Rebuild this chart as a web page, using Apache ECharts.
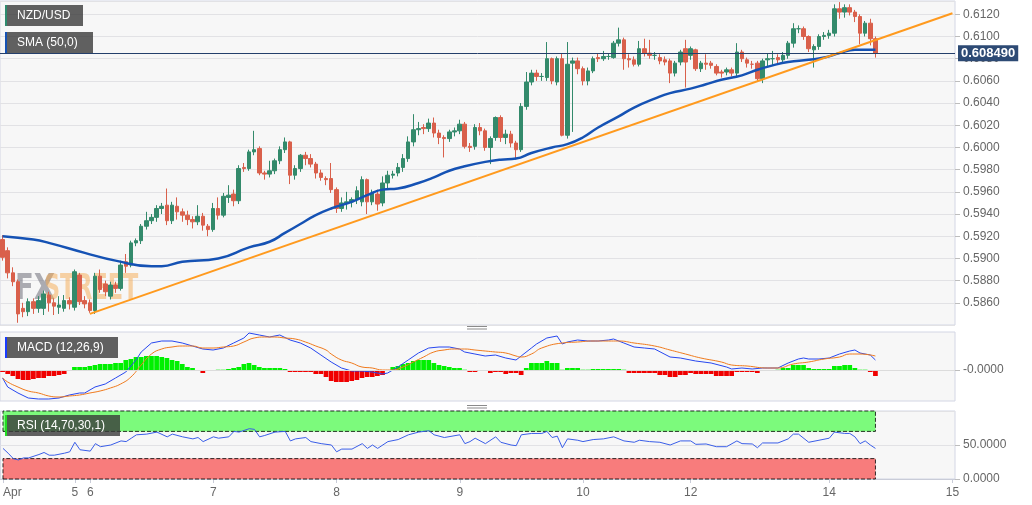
<!DOCTYPE html>
<html>
<head>
<meta charset="utf-8">
<title>NZD/USD</title>
<script src="https://cdn.jsdelivr.net/npm/echarts@6/dist/echarts.min.js"></script>
<style>
html, body { margin: 0; padding: 0; background: #fff; }
#chart { width: 1032px; height: 505px; }
</style>
</head>
<body>
<div id="chart"></div>
<script>
// hourly candles, [open, close, low, high]
const candles = [
  [0.5917,0.5901,0.5898,0.5921],[0.5907,0.5887,0.5882,0.5910],[0.5887,0.5879,0.5875,0.5892],[0.5879,0.5850,0.5842,0.5881],
  [0.5855,0.5852,0.5847,0.5860],[0.5852,0.5861,0.5848,0.5864],[0.5861,0.5855,0.5850,0.5864],[0.5855,0.5862,0.5851,0.5866],
  [0.5855,0.5868,0.5849,0.5871],[0.5867,0.5860,0.5852,0.5870],[0.5860,0.5857,0.5849,0.5864],[0.5856,0.5858,0.5850,0.5866],
  [0.5855,0.5862,0.5852,0.5867],[0.5862,0.5859,0.5854,0.5865],[0.5856,0.5888,0.5853,0.5890],[0.5885,0.5861,0.5858,0.5887],
  [0.5862,0.5859,0.5855,0.5866],[0.5860,0.5853,0.5851,0.5863],[0.5853,0.5884,0.5850,0.5887],[0.5884,0.5872,0.5869,0.5890],
  [0.5877,0.5870,0.5866,0.5880],[0.5866,0.5876,0.5863,0.5879],[0.5876,0.5873,0.5869,0.5879],[0.5873,0.5894,0.5871,0.5898],
  [0.5897,0.5893,0.5887,0.5904],[0.5894,0.5914,0.5892,0.5916],[0.5914,0.5916,0.5911,0.5918],[0.5916,0.5929,0.5913,0.5931],
  [0.5929,0.5934,0.5926,0.5942],[0.5934,0.5937,0.5931,0.5940],[0.5937,0.5945,0.5933,0.5948],[0.5945,0.5947,0.5940,0.5950],
  [0.5948,0.5934,0.5930,0.5963],[0.5934,0.5948,0.5931,0.5951],[0.5947,0.5942,0.5935,0.5955],[0.5942,0.5939,0.5933,0.5945],
  [0.5939,0.5935,0.5930,0.5943],[0.5935,0.5933,0.5927,0.5938],[0.5933,0.5938,0.5930,0.5948],[0.5938,0.5930,0.5925,0.5941],
  [0.5929,0.5926,0.5920,0.5931],[0.5926,0.5945,0.5924,0.5950],[0.5945,0.5939,0.5935,0.5955],[0.5939,0.5956,0.5937,0.5959],
  [0.5955,0.5957,0.5950,0.5966],[0.5958,0.5952,0.5947,0.5962],[0.5952,0.5981,0.5949,0.5984],[0.5982,0.5981,0.5978,0.5986],
  [0.5981,0.5996,0.5979,0.5998],[0.5996,0.5998,0.5993,0.6015],[0.5999,0.5977,0.5975,0.6001],[0.5977,0.5976,0.5971,0.5979],
  [0.5976,0.5979,0.5973,0.5988],[0.5979,0.5988,0.5976,0.5990],[0.5988,0.5998,0.5985,0.6001],[0.5998,0.6005,0.5995,0.6009],
  [0.6005,0.5975,0.5967,0.6006],[0.5975,0.5981,0.5971,0.5984],[0.5981,0.5993,0.5978,0.5994],[0.5993,0.5990,0.5984,0.5996],
  [0.5990,0.5985,0.5982,0.5994],[0.5985,0.5977,0.5972,0.5987],[0.5977,0.5973,0.5970,0.5980],[0.5972,0.5971,0.5966,0.5974],
  [0.5972,0.5962,0.5959,0.5986],[0.5962,0.5945,0.5941,0.5964],[0.5945,0.5950,0.5942,0.5955],[0.5950,0.5951,0.5944,0.5960],
  [0.5951,0.5953,0.5946,0.5955],[0.5953,0.5961,0.5949,0.5965],[0.5951,0.5971,0.5947,0.5974],[0.5971,0.5951,0.5940,0.5972],
  [0.5951,0.5959,0.5948,0.5962],[0.5958,0.5949,0.5943,0.5962],[0.5950,0.5968,0.5947,0.5974],[0.5968,0.5975,0.5962,0.5979],
  [0.5975,0.5976,0.5972,0.5979],[0.5977,0.5982,0.5974,0.5986],[0.5982,0.5990,0.5978,0.5994],[0.5990,0.6005,0.5987,0.6010],
  [0.6005,0.6016,0.6001,0.6030],[0.6016,0.6017,0.6011,0.6023],[0.6018,0.6017,0.6012,0.6021],[0.6017,0.6022,0.6014,0.6026],
  [0.6022,0.6013,0.6009,0.6027],[0.6013,0.6009,0.6003,0.6016],[0.6009,0.6008,0.5991,0.6011],[0.6008,0.6014,0.6005,0.6016],
  [0.6014,0.6015,0.6010,0.6018],[0.6015,0.6021,0.6012,0.6025],[0.6021,0.6001,0.5999,0.6023],[0.6001,0.6000,0.5996,0.6004],
  [0.6001,0.6018,0.5998,0.6021],[0.6018,0.6015,0.6011,0.6022],[0.6015,0.6000,0.5997,0.6017],[0.6000,0.6008,0.5985,0.6010],
  [0.6009,0.6027,0.6006,0.6028],[0.6027,0.6009,0.6005,0.6029],[0.6009,0.6012,0.6003,0.6016],[0.6012,0.6004,0.6000,0.6015],
  [0.6004,0.5998,0.5989,0.6006],[0.5998,0.6037,0.5996,0.6040],[0.6037,0.6059,0.6034,0.6068],[0.6059,0.6067,0.6056,0.6070],
  [0.6067,0.6064,0.6060,0.6070],[0.6064,0.6064,0.6060,0.6067],[0.6063,0.6080,0.6060,0.6095],[0.6080,0.6060,0.6057,0.6081],
  [0.6059,0.6080,0.6056,0.6082],[0.6080,0.6011,0.6010,0.6085],[0.6011,0.6075,0.6008,0.6095],[0.6076,0.6078,0.6014,0.6081],
  [0.6078,0.6071,0.6066,0.6081],[0.6071,0.6060,0.6056,0.6073],[0.6060,0.6069,0.6056,0.6072],[0.6069,0.6080,0.6067,0.6082],
  [0.6081,0.6080,0.6077,0.6085],[0.6080,0.6082,0.6078,0.6087],[0.6082,0.6082,0.6079,0.6085],[0.6081,0.6094,0.6080,0.6096],
  [0.6094,0.6097,0.6091,0.6108],[0.6097,0.6080,0.6070,0.6099],[0.6080,0.6079,0.6072,0.6084],[0.6079,0.6075,0.6073,0.6082],
  [0.6075,0.6089,0.6073,0.6096],[0.6089,0.6085,0.6082,0.6098],[0.6085,0.6083,0.6080,0.6097],[0.6083,0.6083,0.6079,0.6086],
  [0.6081,0.6078,0.6075,0.6084],[0.6079,0.6077,0.6074,0.6082],[0.6078,0.6067,0.6058,0.6080],[0.6067,0.6076,0.6064,0.6078],
  [0.6077,0.6086,0.6074,0.6088],[0.6089,0.6077,0.6054,0.6097],[0.6083,0.6089,0.6079,0.6091],[0.6088,0.6071,0.6069,0.6089],
  [0.6071,0.6076,0.6068,0.6078],[0.6076,0.6075,0.6070,0.6084],[0.6076,0.6074,0.6071,0.6078],[0.6073,0.6067,0.6065,0.6075],
  [0.6068,0.6067,0.6063,0.6070],[0.6068,0.6070,0.6065,0.6072],[0.6070,0.6067,0.6064,0.6072],[0.6067,0.6086,0.6064,0.6094],
  [0.6086,0.6080,0.6077,0.6088],[0.6079,0.6076,0.6072,0.6081],[0.6075,0.6075,0.6071,0.6078],[0.6076,0.6062,0.6059,0.6078],
  [0.6062,0.6078,0.6058,0.6080],[0.6079,0.6080,0.6073,0.6085],[0.6080,0.6080,0.6074,0.6087],[0.6081,0.6079,0.6076,0.6084],
  [0.6079,0.6083,0.6076,0.6086],[0.6083,0.6094,0.6080,0.6096],[0.6094,0.6107,0.6090,0.6112],[0.6107,0.6107,0.6103,0.6110],
  [0.6107,0.6100,0.6097,0.6109],[0.6100,0.6089,0.6086,0.6101],[0.6088,0.6091,0.6072,0.6093],[0.6091,0.6100,0.6088,0.6102],
  [0.6100,0.6101,0.6097,0.6104],[0.6101,0.6103,0.6098,0.6106],[0.6103,0.6125,0.6100,0.6129],[0.6125,0.6122,0.6116,0.6131],
  [0.6122,0.6126,0.6117,0.6129],[0.6126,0.6122,0.6119,0.6129],[0.6122,0.6118,0.6113,0.6124],[0.6118,0.6103,0.6093,0.6120],
  [0.6103,0.6112,0.6100,0.6114],[0.6112,0.6098,0.6092,0.6116],[0.6098,0.60849,0.6081,0.6100]
];
const lastPrice = 0.60849;

// SMA(50), [candle index, value]
const smaPts = [
  [0,0.5920],[6,0.5917],[9,0.5914],[16,0.5905],[22,0.5898],[29,0.5893],[31,0.5893],[35,0.5897],[42,0.5900],
  [48,0.5910],[52,0.5915],[55,0.5923],[58,0.5931],[61,0.5939],[64,0.5945],[68,0.5951],[71,0.5957],[74,0.5962],
  [77,0.5963],[81,0.5968],[84,0.5973],[87,0.5979],[90,0.5983],[94,0.5987],[97,0.5989],[100,0.5990],[103,0.5995],
  [107,0.6000],[110,0.6003],[113,0.6009],[116,0.6018],[120,0.6028],[123,0.6036],[127,0.6044],[130,0.6049],
  [134,0.6053],[137,0.6057],[140,0.6061],[144,0.6065],[147,0.6070],[150,0.6074],[153,0.6077],[157,0.6079],
  [160,0.6081],[163,0.6085],[166,0.6088],[170,0.6088]
];

// rising trend line
const trendPts = [[17, 0.5850], [185, 0.6121]];

// MACD (12,26,9)
const macdHist = [
  -0.0002,-0.0004,-0.0006,-0.0009,-0.0010,-0.0010,-0.0009,-0.0008,-0.0008,-0.0006,-0.0006,-0.0005,-0.0004,-0.0001,
  0.0003,0.0003,0.0003,0.0004,0.0005,0.0006,0.0006,0.0006,0.0007,0.0007,0.0010,0.0011,0.0013,0.0013,0.0014,0.0014,
  0.0014,0.0013,0.0012,0.0010,0.0009,0.0006,0.0003,0.0002,-0.0001,-0.0003,-0.0001,-0.0001,0.00003,0.00003,0.0001,
  0.0002,0.0003,0.0006,0.0007,0.0005,0.0003,0.0002,0.0002,0.0002,0.0002,0.0001,-0.0002,-0.0002,-0.0002,-0.0002,
  -0.0002,-0.0004,-0.0004,-0.0007,-0.0011,-0.0012,-0.0012,-0.0012,-0.0011,-0.0010,-0.0008,-0.0007,-0.0007,-0.0006,
  -0.0005,-0.0001,0.0003,0.0004,0.0006,0.0007,0.0009,0.0010,0.0010,0.0010,0.0007,0.0005,0.0004,0.0003,0.0002,0.0002,
  0.00003,-0.0002,-0.0002,-0.0001,-0.0001,-0.0003,-0.0002,-0.0002,-0.0004,-0.0003,-0.0003,-0.0005,0.0002,0.0007,
  0.0007,0.0007,0.0009,0.0007,0.0007,0.00003,0.0002,0.0002,0.0002,0.00003,0.00003,0.0001,0.0001,0.0001,0.0001,
  0.0001,0.0001,0.00003,-0.0003,-0.0003,-0.0003,-0.0003,-0.0003,-0.0003,-0.0005,-0.0005,-0.0007,-0.0007,-0.0005,
  -0.0005,-0.0003,-0.0004,-0.0004,-0.0004,-0.0004,-0.0006,-0.0006,-0.0006,-0.0006,-0.0002,-0.0002,-0.0002,-0.0002,
  -0.0003,-0.0001,-0.0001,-0.0001,0.00003,0.0002,0.0002,0.0005,0.0005,0.0005,0.0002,0.0001,0.0001,0.0001,0.0001,
  0.0004,0.0004,0.0005,0.0005,0.0002,0.00003,0.00003,-0.0002,-0.0006
];
const macdPts = [
  [0,-0.0008],[1,-0.0017],[3,-0.0023],[5,-0.0028],[7,-0.0029],[9,-0.0029],[11,-0.0028],[13,-0.0025],[15,-0.0023],
  [16,-0.0023],[18,-0.0017],[20,-0.0014],[22,-0.0008],[24,-0.0002],[26,0.0010],[27,0.0018],[29,0.0027],[31,0.0029],
  [33,0.0029],[35,0.0027],[37,0.0024],[39,0.0021],[41,0.0020],[43,0.0022],[45,0.0027],[47,0.0032],[48,0.0037],
  [50,0.0035],[52,0.0033],[54,0.0035],[56,0.0030],[58,0.0027],[60,0.0022],[62,0.0015],[64,0.0008],[66,0.0002],
  [68,-0.0001],[70,-0.0001],[72,-0.0002],[74,-0.0004],[75,-0.0003],[77,0.0003],[79,0.0010],[81,0.0017],[83,0.0022],
  [85,0.0023],[87,0.0023],[89,0.0021],[90,0.0018],[92,0.0016],[94,0.0014],[96,0.0015],[98,0.0012],[100,0.0010],
  [101,0.0014],[103,0.0022],[104,0.0026],[106,0.0032],[108,0.0034],[109,0.0026],[110,0.0028],[112,0.0030],
  [114,0.0029],[116,0.0029],[118,0.0030],[119,0.0031],[121,0.0027],[123,0.0023],[125,0.0022],[127,0.0021],
  [130,0.0013],[132,0.0012],[135,0.0009],[138,0.0007],[141,0.0003],[142,0.0001],[144,0.0002],[146,0.0001],
  [148,0.0002],[151,0.0002],[153,0.0007],[155,0.0011],[156,0.0012],[157,0.0011],[159,0.0011],[161,0.0012],
  [163,0.0016],[165,0.0019],[166,0.0020],[167,0.0017],[169,0.0015],[170,0.0010]
];
const signalPts = [
  [0,-0.0008],[1,-0.0012],[3,-0.0017],[5,-0.0021],[7,-0.0023],[9,-0.0026],[11,-0.0027],[13,-0.0026],[15,-0.0025],
  [17,-0.0023],[19,-0.0021],[21,-0.0018],[23,-0.0014],[25,-0.0007],[27,0.0005],[29,0.0016],[31,0.0021],[33,0.0023],
  [35,0.0024],[37,0.0024],[39,0.0022],[41,0.0022],[43,0.0023],[45,0.0024],[47,0.0028],[49,0.0032],[51,0.0033],
  [53,0.0033],[55,0.0032],[57,0.0031],[59,0.0028],[61,0.0024],[63,0.0020],[64,0.0016],[66,0.0010],[68,0.0007],
  [70,0.0003],[72,0.0002],[74,0.0000],[76,0.0000],[78,0.0003],[80,0.0008],[82,0.0013],[84,0.0018],[86,0.0020],
  [88,0.0021],[90,0.0021],[92,0.0020],[94,0.0019],[96,0.0018],[98,0.0017],[100,0.0014],[101,0.0013],[103,0.0016],
  [105,0.0022],[109,0.0027],[112,0.0028],[115,0.0029],[118,0.0029],[120,0.0029],[123,0.0027],[127,0.0024],
  [130,0.0020],[133,0.0016],[136,0.0012],[140,0.0008],[142,0.0005],[145,0.0004],[149,0.0002],[151,0.0002],
  [154,0.0006],[157,0.0008],[160,0.0011],[163,0.0013],[165,0.0016],[167,0.0016],[170,0.0014]
];

// RSI (14,70,30,1)
const rsiPts = [
  [0,45],[1,38],[2,30],[3,28],[4,31],[5,31],[7,36],[8,39],[9,35],[10,35],[12,38],[13,40],[14,54],[15,43],[17,41],
  [18,52],[19,47.5],[21,50],[23,56],[24,55],[25,60],[26,65],[28,66],[30,69],[32,62],[33,66],[35,62],[37,59],
  [38,61],[39,55],[41,62],[42,60],[44,62],[45,70],[46,69],[48,74],[49,73],[50,62],[51,64],[53,69],[55,70],
  [56,56],[57,59],[59,61],[60,55],[62,52],[64,50],[65,40],[66,44],[68,44],[70,52],[71,45],[72,50],[73,45],
  [75,55],[77,58],[79,65],[81,69],[83,71],[84,65],[86,61],[89,65],[90,52],[91,55],[92,60],[94,52],[96,62],
  [97,54],[99,50],[100,49],[101,65],[103,67],[105,67],[106,70],[107,61],[108,63],[109,46],[110,59],[112,57],
  [113,55],[115,58],[117,59],[119,62],[121,56],[123,54],[124,57],[126,55],[128,54],[130,50],[132,56],[134,56],
  [135,51],[137,51.5],[139,47.5],[141,47.5],[143,56],[144,52],[146,51.5],[147,46],[148,53],[151,53],[153,59],
  [154,66],[155,66],[157,54],[159,57],[161,60],[162,69],[164,67],[165,67],[166,62],[167,52],[168,56],[169,50],
  [170,45]
];

// time axis
const slotCount = 186;
const tickIdx = [0, 14, 17, 41, 65, 89, 113, 134, 161, 185];
const tickLabels = ['Apr', '5', '6', '7', '8', '9', '10', '12', '14', '15'];

const slots = Array.from({ length: slotCount }, (_, i) => i);
const font = '"Liberation Sans", Arial, sans-serif';
const upColor = '#338a6b';
const downColor = '#d9604b';

function xAxisFor(gi, withLabels) {
    return {
        type: 'category',
        gridIndex: gi,
        data: slots,
        boundaryGap: true,
        axisLine: { show: withLabels, lineStyle: { color: '#c9ccd8' } },
        axisTick: {
            show: withLabels, alignWithLabel: true, length: 4,
            interval: (i) => tickIdx.includes(i),
            lineStyle: { color: '#c9ccd8' }
        },
        axisLabel: {
            show: withLabels,
            interval: (i) => tickIdx.includes(i),
            formatter: (v, i) => tickLabels[tickIdx.indexOf(i)],
            color: '#666', fontSize: 12, fontFamily: font, margin: 8,
            alignMinLabel: 'left'
        },
        splitLine: { show: false }
    };
}

const yLabel = { color: '#666', fontSize: 12, fontFamily: font, margin: 8 };
const yTick = { show: true, length: 5, lineStyle: { color: '#bdbdbd' } };

function tag(x, y, w, text, barColor) {
    return {
        type: 'group', x: x, y: y, z: 100,
        children: [
            { type: 'rect', z: 100, shape: { x: 0, y: 0, width: w, height: 21 }, style: { fill: 'rgba(58,58,58,0.8)' } },
            { type: 'rect', z: 101, shape: { x: 0, y: 0, width: 2, height: 21 }, style: { fill: barColor } },
            { type: 'text', z: 101, x: 12, y: 11, style: { text: text, fill: '#fff', font: '12px ' + font, verticalAlign: 'middle' } }
        ]
    };
}

function handle(y) {
    return {
        type: 'group', x: 467, y: y,
        children: [
            { type: 'rect', shape: { x: 0, y: 0, width: 20, height: 1 }, style: { fill: '#8a8a8a' } },
            { type: 'rect', shape: { x: 0, y: 2.5, width: 20, height: 1 }, style: { fill: '#8a8a8a' } }
        ]
    };
}

const chart = echarts.init(document.getElementById('chart'));
const option = {
    animation: false,
    backgroundColor: '#fff',
    grid: [
        { left: 0, right: 77, top: 1, height: 324, show: true, backgroundColor: '#f7f7f7', borderColor: '#d3d6e4', borderWidth: 1 },
        { left: 0, right: 77, top: 332, height: 69, show: true, backgroundColor: '#f7f7f7', borderColor: '#d3d6e4', borderWidth: 1 },
        { left: 0, right: 77, top: 411, height: 68, show: true, backgroundColor: '#f7f7f7', borderColor: '#d3d6e4', borderWidth: 1 }
    ],
    xAxis: [xAxisFor(0, false), xAxisFor(1, false), xAxisFor(2, true)],
    yAxis: [
        {
            gridIndex: 0, type: 'value', position: 'right', min: 0.584, max: 0.6132, interval: 0.002,
            axisLine: { show: false }, axisTick: yTick,
            axisLabel: Object.assign({ formatter: (v) => v.toFixed(4), showMinLabel: false, showMaxLabel: false }, yLabel),
            splitLine: { lineStyle: { color: '#e2e2e5' } }
        },
        {
            gridIndex: 1, type: 'value', position: 'right', min: -0.0031, max: 0.0038,
            axisLine: { show: false },
            axisTick: Object.assign({ customValues: [0] }, yTick),
            axisLabel: Object.assign({ customValues: [0], formatter: () => '-0.0000' }, yLabel),
            splitLine: { show: false }
        },
        {
            gridIndex: 2, type: 'value', position: 'right', min: 0, max: 100, interval: 50,
            axisLine: { show: false }, axisTick: yTick,
            axisLabel: Object.assign({ formatter: (v) => v.toFixed(4), showMaxLabel: false }, yLabel),
            splitLine: { lineStyle: { color: '#e2e2e5' } }
        }
    ],
    series: [
        {
            name: 'NZD/USD', type: 'candlestick', xAxisIndex: 0, yAxisIndex: 0,
            data: candles, barWidth: 4,
            itemStyle: { color: upColor, color0: downColor, borderColor: upColor, borderColor0: downColor, borderWidth: 1 }
        },
        {
            name: 'SMA (50,0)', type: 'line', xAxisIndex: 0, yAxisIndex: 0, data: smaPts,
            smooth: true, showSymbol: false, z: 3,
            lineStyle: { color: '#1552b4', width: 2.5 }
        },
        {
            name: 'trend', type: 'line', xAxisIndex: 0, yAxisIndex: 0, data: trendPts,
            showSymbol: false, z: 3,
            lineStyle: { color: '#ff9a1e', width: 2 },
            // current price line with its tag on the axis
            markLine: {
                silent: true, symbol: ['none', 'none'], animation: false, precision: 6,
                data: [{ yAxis: lastPrice }],
                lineStyle: { color: '#243f6b', width: 1, type: 'solid' },
                label: {
                    position: 'end', distance: 3,
                    formatter: () => lastPrice.toFixed(6),
                    backgroundColor: '#2d4a74', color: '#fff', fontWeight: 'bold',
                    fontSize: 13, fontFamily: font, padding: [2, 3, 1, 3]
                }
            }
        },
        {
            name: 'hist', type: 'bar', xAxisIndex: 1, yAxisIndex: 1, data: macdHist,
            barWidth: '92%',
            itemStyle: { color: (p) => (p.value >= 0 ? '#00f000' : '#f00000') },
            markLine: {
                silent: true, symbol: ['none', 'none'], animation: false,
                data: [{ yAxis: 0 }], label: { show: false },
                lineStyle: { color: '#dcdcdc', width: 1, type: 'solid' }
            }
        },
        {
            name: 'MACD', type: 'line', xAxisIndex: 1, yAxisIndex: 1, data: macdPts,
            showSymbol: false, z: 3, lineStyle: { color: '#2747f0', width: 1 }
        },
        {
            name: 'signal', type: 'line', xAxisIndex: 1, yAxisIndex: 1, data: signalPts,
            smooth: true, showSymbol: false, z: 3, lineStyle: { color: '#f07a1c', width: 1 }
        },
        {
            name: 'RSI', type: 'line', xAxisIndex: 2, yAxisIndex: 2, data: rsiPts,
            showSymbol: false, z: 3, lineStyle: { color: '#3a5ee8', width: 1 },
            markArea: {
                silent: true,
                itemStyle: { borderColor: 'rgba(0,0,0,0.8)', borderWidth: 1, borderType: 'dashed' },
                data: [
                    [{ xAxis: 0, yAxis: 70, itemStyle: { color: '#7cfa7c' } }, { xAxis: 170, yAxis: 100 }],
                    [{ xAxis: 0, yAxis: 0, itemStyle: { color: '#f87c7c' } }, { xAxis: 170, yAxis: 30 }]
                ]
            }
        }
    ],
    graphic: [
        tag(5, 5, 78, 'NZD/USD', '#2e8b6e'),
        tag(5, 32, 88, 'SMA (50,0)', '#1552b4'),
        tag(5, 337, 113, 'MACD (12,26,9)', '#1a3cff'),
        tag(5, 415, 115, 'RSI (14,70,30,1)', '#22dd22'),
        handle(326),
        handle(405),
        {
            type: 'text', x: 15, y: 290, z: 1, scaleX: 0.85,
            style: { text: 'FX', fill: 'rgba(110,110,120,0.55)', font: 'bold 36px "Liberation Sans Narrow", "DejaVu Sans Condensed", sans-serif', verticalAlign: 'middle' }
        },
        {
            type: 'text', x: 44, y: 290, z: 1, scaleX: 0.69,
            style: { text: 'STREET', fill: 'rgba(245,170,80,0.5)', font: 'bold 36px "Liberation Sans Narrow", "DejaVu Sans Condensed", sans-serif', verticalAlign: 'middle' }
        }
    ]
};
chart.setOption(option);
window.addEventListener('resize', () => chart.resize());
</script>
</body>
</html>
